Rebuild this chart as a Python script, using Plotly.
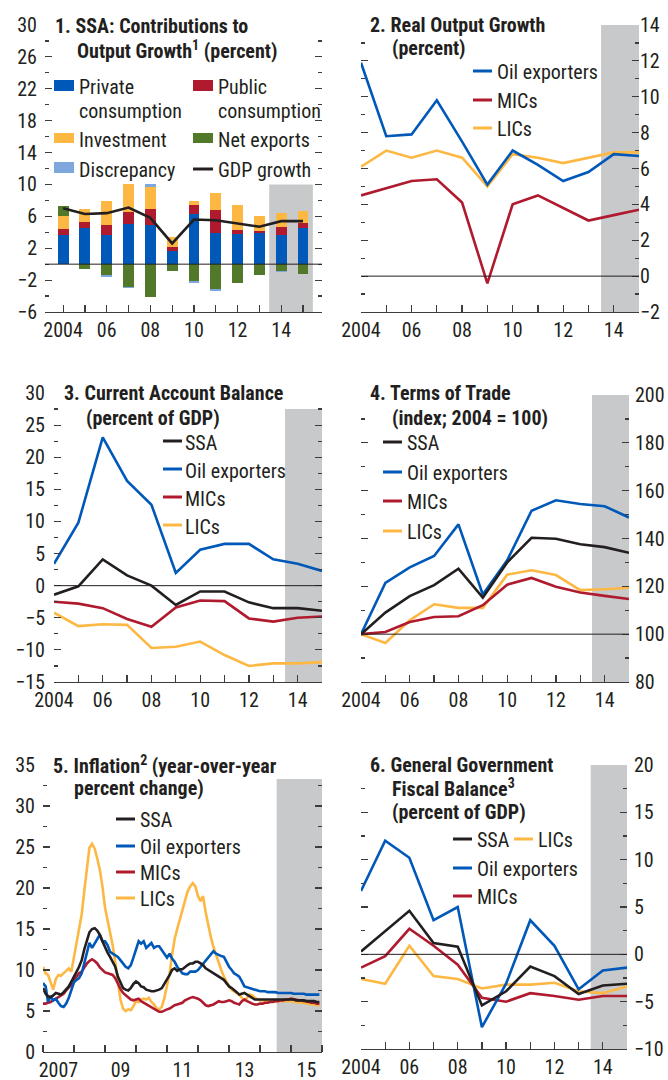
import plotly.graph_objects as go
import pandas as pd

# ---------------- DATA ----------------
years = list(range(2004, 2016))

# Panel 1: contributions to output growth (percentage points)
private_cons = [3.7, 4.5, 3.7, 5.1, 4.9, 1.7, 6.3, 3.9, 3.8, 3.9, 3.7, 4.5]
public_cons = [0.7, 0.8, 1.2, 1.4, 2.0, 0.5, 1.1, 2.9, 0.5, 0.3, 0.9, 0.7]
investment = [1.7, 1.6, 3.0, 3.5, 2.8, 1.2, 0.5, 2.1, 3.1, 1.9, 1.8, 1.5]
net_exports = [1.2, -0.6, -1.4, -2.9, -4.1, -0.8, -2.1, -3.1, -2.3, -1.3, -0.9, -1.2]
discrepancy = [0.0, 0.0, -0.2, -0.1, 0.3, 0.0, -0.2, -0.3, 0.0, -0.1, -0.1, 0.0]
gdp_growth = [7.0, 6.3, 6.4, 7.1, 5.8, 2.6, 5.6, 5.5, 5.1, 4.7, 5.4, 5.4]

# Panel 2: real output growth (percent)
rog_oil = [11.9, 7.8, 7.9, 9.8, 7.5, 5.1, 7.0, 6.2, 5.3, 5.8, 6.8, 6.7]
rog_mics = [4.5, 4.9, 5.3, 5.4, 4.1, -0.4, 4.0, 4.5, 3.8, 3.1, 3.4, 3.7]
rog_lics = [6.1, 7.0, 6.6, 7.0, 6.6, 5.0, 6.8, 6.6, 6.3, 6.6, 6.9, 6.9]

# Panel 3: current account balance (percent of GDP)
ca_ssa = [-1.4, -0.1, 4.1, 1.6, 0.0, -3.0, -0.9, -0.9, -2.6, -3.5, -3.5, -3.9]
ca_oil = [3.4, 9.8, 23.1, 16.3, 12.6, 2.0, 5.6, 6.5, 6.5, 4.1, 3.4, 2.3]
ca_mics = [-2.5, -2.8, -3.5, -5.2, -6.4, -3.4, -2.3, -2.4, -5.1, -5.6, -5.0, -4.8]
ca_lics = [-4.2, -6.3, -6.0, -6.1, -9.7, -9.5, -8.7, -10.8, -12.5, -12.1, -12.1, -11.9]

# Panel 4: terms of trade (index, 2004 = 100)
tot_ssa = [100, 109.0, 115.9, 120.5, 127.4, 115.3, 130.0, 140.3, 139.9, 137.6, 136.4, 134.0]
tot_oil = [100, 121.4, 127.9, 132.7, 145.9, 116.6, 130.9, 151.6, 156.0, 154.4, 153.5, 148.8]
tot_mics = [100, 100.9, 105.1, 107.2, 107.5, 112.1, 120.7, 123.5, 119.8, 117.4, 116.0, 114.7]
tot_lics = [100, 96.3, 105.8, 112.5, 111.0, 111.0, 124.9, 126.7, 124.7, 118.4, 118.8, 119.4]

# Panel 5: inflation, monthly Jan 2007 - Dec 2015 (year-over-year percent change)
months = pd.date_range("2007-01-01", periods=108, freq="MS")
inf_lics = [10.4, 9.6, 9.4, 8.4, 7.6, 8.9, 9.4, 9.3, 9.6, 9.9, 10.2, 9.8,
            11.6, 13.0, 14.6, 16.8, 19.6, 22.6, 24.9, 25.4, 24.8, 23.6, 22.2, 20.2,
            17.6, 16.0, 14.6, 13.0, 11.0, 8.8, 6.4, 5.3, 5.0, 5.2, 5.1, 5.6,
            6.2, 6.1, 6.4, 6.5, 6.4, 6.6, 6.1, 5.8, 5.3, 5.2, 5.5, 6.6,
            8.0, 9.6, 11.8, 13.8, 15.0, 16.2, 17.5, 18.6, 19.6, 20.2, 20.6, 20.2,
            19.0, 18.4, 19.0, 17.0, 15.4, 14.0, 12.8, 11.8, 10.8, 10.0, 9.2, 8.6,
            8.0, 7.6, 7.4, 7.2, 7.0, 6.6, 6.3, 6.6, 7.0, 6.9, 6.6, 6.4,
            6.3, 6.3, 6.2, 6.2, 6.2, 6.2, 6.2, 6.2, 6.2, 6.2, 6.2, 6.2,
            6.2, 6.1, 6.1, 6.0, 6.0, 6.0, 5.9, 5.9, 5.8, 5.8, 5.7, 5.7]
inf_ssa = [7.8, 7.1, 6.8, 6.7, 6.9, 7.2, 7.1, 7.0, 7.3, 7.6, 8.0, 8.6,
           9.3, 9.8, 10.4, 11.2, 12.5, 13.6, 14.6, 15.0, 15.1, 14.8, 14.3, 13.5,
           12.7, 12.1, 11.6, 11.0, 10.4, 9.2, 8.4, 7.8, 7.6, 7.5, 7.8, 8.3,
           8.6, 8.4, 8.0, 7.9, 7.6, 7.5, 7.4, 7.4, 7.5, 7.6, 7.8, 8.3,
           8.8, 9.4, 10.0, 10.2, 9.9, 10.1, 10.1, 10.4, 10.6, 10.8, 10.8, 11.0,
           11.0, 10.8, 10.6, 10.2, 10.0, 9.8, 9.6, 9.4, 9.2, 9.0, 8.8, 8.4,
           8.0, 7.8, 7.6, 7.3, 7.0, 7.1, 7.2, 7.0, 6.8, 6.6, 6.4, 6.4,
           6.4, 6.4, 6.4, 6.4, 6.4, 6.4, 6.4, 6.4, 6.4, 6.4, 6.4, 6.4,
           6.4, 6.4, 6.3, 6.3, 6.3, 6.3, 6.2, 6.2, 6.2, 6.2, 6.1, 6.1]
inf_oil = [8.4, 8.0, 6.1, 6.8, 6.3, 6.5, 6.0, 5.6, 5.5, 5.9, 6.6, 7.6,
           8.5, 8.8, 9.0, 9.6, 10.8, 12.0, 13.3, 12.7, 13.2, 13.8, 14.3, 13.5,
           13.5, 13.0, 12.2, 12.0, 11.8, 11.6, 11.2, 10.8, 10.4, 10.2, 10.6, 11.5,
           12.5, 13.5, 13.2, 13.5, 12.7, 13.0, 13.3, 12.7, 12.9, 12.9, 12.4, 12.0,
           11.5, 12.0, 11.4, 11.0, 10.4, 10.0, 9.6, 9.5, 9.5, 9.8, 9.8, 9.8,
           10.0, 10.4, 10.8, 11.2, 11.6, 12.0, 12.3, 12.0, 11.8, 11.7, 11.6, 11.0,
           10.4, 10.0, 9.6, 9.4, 9.2, 8.6, 8.0, 7.9, 7.8, 7.7, 7.6, 7.5,
           7.4, 7.4, 7.4, 7.3, 7.3, 7.3, 7.3, 7.2, 7.2, 7.2, 7.2, 7.2,
           7.2, 7.1, 7.1, 7.1, 7.1, 7.1, 7.0, 7.0, 7.0, 7.0, 7.0, 7.0]
inf_mics = [5.9, 5.9, 6.0, 6.1, 6.3, 6.5, 6.6, 6.9, 7.1, 7.5, 7.8, 8.2,
            8.8, 9.2, 9.6, 9.8, 10.3, 10.8, 11.1, 11.3, 11.1, 10.8, 10.3, 10.0,
            9.7, 9.6, 9.5, 9.4, 9.0, 8.3, 7.7, 7.2, 6.9, 6.7, 6.4, 6.3,
            6.4, 6.5, 6.2, 6.0, 5.8, 5.6, 5.4, 5.2, 5.0, 4.9, 4.9, 5.1,
            5.2, 5.3, 5.5, 5.7, 5.8, 5.9, 6.0, 6.3, 6.5, 6.6, 6.7, 6.6,
            6.5, 6.3, 6.0, 5.7, 5.6, 5.7, 5.8, 6.0, 6.2, 6.1, 6.1, 6.2,
            6.3, 6.2, 6.0, 5.9, 5.8, 6.2, 6.4, 6.2, 6.0, 5.9, 5.8, 5.8,
            5.9, 5.9, 6.0, 6.0, 6.1, 6.1, 6.2, 6.2, 6.3, 6.3, 6.4, 6.4,
            6.5, 6.4, 6.4, 6.3, 6.3, 6.2, 6.2, 6.1, 6.0, 6.0, 5.9, 5.9]

# Panel 6: general government fiscal balance (percent of GDP)
fb_ssa = [0.3, 2.4, 4.6, 1.2, 0.8, -5.4, -3.9, -1.3, -2.3, -4.2, -3.3, -3.1]
fb_oil = [6.7, 12.0, 10.2, 3.6, 5.0, -7.7, -3.1, 3.6, 0.9, -3.7, -1.7, -1.4]
fb_mics = [-1.4, -0.2, 2.7, 0.9, -1.1, -4.6, -5.0, -4.1, -4.4, -4.8, -4.4, -4.4]
fb_lics = [-2.6, -3.1, 0.9, -2.3, -2.6, -3.6, -3.2, -3.2, -3.0, -3.9, -4.1, -3.4]

year_ticks = [2004, 2006, 2008, 2010, 2012, 2014]
year_labels = ["2004", "06", "08", "10", "12", "14"]
inf_labels = ["2007", "09", "11", "13", "15"]

# ---------------- STYLE ----------------
FONT = "Roboto Condensed, Archivo Narrow, sans-serif"
TXT = "#231F20"
AX = "#3C3C3C"
BLACK = "#231F20"
BLUE = "#0058B8"
RED = "#B01A2E"
YELLOW = "#FDB843"
GREEN = "#52782A"
LBLUE = "#7DA7DD"
SHADE = "#C8C9CB"
LW = 2.6
FS = 20

W, H = 668, 1080


def px(x):
    return x / W


def py(y):
    return 1 - y / H


fig = go.Figure()

# Panel 1 bars
for name, vals, col in [("Private consumption", private_cons, BLUE),
                        ("Public consumption", public_cons, RED),
                        ("Investment", investment, YELLOW),
                        ("Net exports", net_exports, GREEN),
                        ("Discrepancy", discrepancy, LBLUE)]:
    fig.add_trace(go.Bar(x=years, y=vals, name=name, marker=dict(color=col, line=dict(width=0)),
                         width=0.5, xaxis="x", yaxis="y", showlegend=False))
fig.add_trace(go.Scatter(x=years, y=gdp_growth, mode="lines", line=dict(color=BLACK, width=LW),
                         xaxis="x", yaxis="y", showlegend=False, name="GDP growth"))


def add_lines(x, series, xa, ya):
    for vals, col in series:
        fig.add_trace(go.Scatter(x=x, y=vals, mode="lines", line=dict(color=col, width=LW),
                                 xaxis=xa, yaxis=ya, showlegend=False))


add_lines(years, [(rog_lics, YELLOW), (rog_mics, RED), (rog_oil, BLUE)], "x2", "y2")
add_lines(years, [(ca_lics, YELLOW), (ca_mics, RED), (ca_oil, BLUE), (ca_ssa, BLACK)], "x3", "y3")
add_lines(years, [(tot_lics, YELLOW), (tot_mics, RED), (tot_oil, BLUE), (tot_ssa, BLACK)], "x4", "y4")
add_lines(months, [(inf_lics, YELLOW), (inf_mics, RED), (inf_oil, BLUE), (inf_ssa, BLACK)], "x5", "y5")
add_lines(years, [(fb_lics, YELLOW), (fb_mics, RED), (fb_oil, BLUE), (fb_ssa, BLACK)], "x6", "y6")


def xcfg(left, right, rng, tickvals, ticktext, minorvals, anchor, ticks="inside", xtype="linear"):
    return dict(domain=[px(left), px(right)], range=rng, anchor=anchor, type=xtype, automargin=False,
                tickmode="array", tickvals=tickvals, ticktext=ticktext,
                ticks=ticks, ticklen=7, tickwidth=1.2, tickcolor=AX,
                showline=True, linecolor=AX, linewidth=1.3, showgrid=False, zeroline=False,
                tickfont=dict(size=FS, color=TXT, family=FONT), ticklabelstandoff=0,
                minor=dict(tickmode="array", tickvals=minorvals, ticks="inside", ticklen=7,
                           tickwidth=1.2, tickcolor=AX, showgrid=False),
                fixedrange=True)


def ycfg(top, bottom, rng, dtick, mdtick, side, anchor, standoff):
    return dict(domain=[py(bottom), py(top)], range=rng, anchor=anchor, side=side, automargin=False,
                tickmode="linear", tick0=rng[0], dtick=dtick,
                ticks="inside", ticklen=7, tickwidth=1.2, tickcolor=AX, mirror="ticks",
                showline=False, showgrid=False, zeroline=False,
                tickfont=dict(size=FS, color=TXT, family=FONT),
                ticklabelstandoff=standoff,
                minor=dict(tickmode="linear", tick0=rng[0], dtick=mdtick, ticks="inside", ticklen=4,
                           tickwidth=1.2, tickcolor=AX, showgrid=False),
                fixedrange=True)


yr_minor = list(range(2003, 2017))
mon_minor = [f"{y}-01-01" for y in range(2007, 2017)]
mon_ticks = [f"{y}-07-02" for y in [2007, 2009, 2011, 2013, 2015]]

fig.update_layout(
    template="none",
    xaxis=xcfg(45, 322, [2003.17, 2015.87], year_ticks, year_labels, yr_minor, "y"),
    yaxis=ycfg(25, 312, [-6, 30], 4, 2, "left", "x", 7),
    xaxis2=xcfg(361, 639, [2004, 2015], year_ticks, year_labels, yr_minor, "y2"),
    yaxis2=ycfg(25, 312, [-2, 14], 2, 1, "right", "x2", 0),
    xaxis3=xcfg(54, 322, [2004, 2015], year_ticks, year_labels, yr_minor, "y3"),
    yaxis3=ycfg(393, 682, [-15, 30], 5, 2.5, "left", "x3", 8),
    xaxis4=xcfg(361, 629, [2004, 2015], year_ticks, year_labels, yr_minor, "y4"),
    yaxis4=ycfg(395, 682, [80, 200], 20, 10, "right", "x4", 5),
    xaxis5=xcfg(43, 322, ["2007-01-01", "2016-01-01"], mon_ticks, inf_labels, mon_minor, "y5",
                ticks="", xtype="date"),
    yaxis5=ycfg(765, 1052, [0, 35], 5, 2.5, "left", "x5", 7),
    xaxis6=xcfg(361, 627, [2004, 2015], year_ticks, year_labels, yr_minor, "y6"),
    yaxis6=ycfg(765, 1049, [-10, 20], 5, 2.5, "right", "x6", 6),
)

shapes = []
# projection shading
for xa, ya, x0, x1, y0, y1 in [("x", "y", 2013.45, 2015.45, -6, 10),
                               ("x2", "y2", 2013.5, 2015, -2, 14),
                               ("x3", "y3", 2013.48, 2015, -15, 27.5),
                               ("x4", "y4", 2013.48, 2015, 80, 200),
                               ("x5", "y5", "2014-07-16", "2016-01-01", 0, 33.3),
                               ("x6", "y6", 2013.5, 2015, -10, 20)]:
    shapes.append(dict(type="rect", xref=xa, yref=ya, x0=x0, x1=x1, y0=y0, y1=y1,
                       fillcolor=SHADE, line=dict(width=0), layer="below"))
# reference lines
for xa, ya, yv in [("x", "y", 0), ("x2", "y2", 0), ("x3", "y3", 0), ("x4", "y4", 100), ("x6", "y6", 0)]:
    shapes.append(dict(type="line", xref=f"{xa} domain", yref=ya, x0=0, x1=1, y0=yv, y1=yv,
                       line=dict(color=BLACK, width=1), layer="above"))

annotations = []


def text(x, y, s, bold=False, size=FS):
    annotations.append(dict(x=px(x), y=py(y), xref="paper", yref="paper", xanchor="left", yanchor="middle",
                            text=f"<b>{s}</b>" if bold else s, showarrow=False, borderpad=0,
                            font=dict(family=FONT, size=size, color=TXT)))


def swatch_rect(x0, x1, y0, y1, col):
    shapes.append(dict(type="rect", xref="paper", yref="paper", x0=px(x0), x1=px(x1), y0=py(y1), y1=py(y0),
                       fillcolor=col, line=dict(width=0)))


def swatch_line(x0, x1, y, col):
    shapes.append(dict(type="line", xref="paper", yref="paper", x0=px(x0), x1=px(x1), y0=py(y), y1=py(y),
                       line=dict(color=col, width=3)))


# Titles
text(54, 26, "1. SSA: Contributions to", bold=True)
text(76, 50, "Output Growth<sup>1</sup> (percent)", bold=True)
text(369, 25, "2. Real Output Growth", bold=True)
text(391, 48, "(percent)", bold=True)
text(63, 393, "3. Current Account Balance", bold=True)
text(85, 418, "(percent of GDP)", bold=True)
text(369, 393, "4. Terms of Trade", bold=True)
text(391, 418, "(index; 2004 = 100)", bold=True)
text(52, 765, "5. Inflation<sup>2</sup> (year-over-year", bold=True)
text(73, 788, "percent change)", bold=True)
text(369, 765, "6. General Government", bold=True)
text(391, 788, "Fiscal Balance<sup>3</sup>", bold=True)
text(391, 812, "(percent of GDP)", bold=True)

# Legend panel 1
swatch_rect(54, 74, 80, 91, BLUE)
text(78, 87, "Private")
text(78, 111, "consumption")
swatch_rect(193, 213, 80, 91, RED)
text(217, 87, "Public")
text(217, 111, "consumption")
swatch_rect(54, 74, 133, 143, YELLOW)
text(78, 140, "Investment")
swatch_rect(193, 213, 133, 143, GREEN)
text(217, 140, "Net exports")
swatch_rect(54, 74, 162, 173, LBLUE)
text(78, 170, "Discrepancy")
swatch_line(193, 213, 169, BLACK)
text(217, 170, "GDP growth")

# Legend panel 2
for y, lab, col in [(71, "Oil exporters", BLUE), (100, "MICs", RED), (128, "LICs", YELLOW)]:
    swatch_line(473, 492, y, col)
    text(496, y + 1, lab)

# Legend panel 3
for y, lab, col in [(441, "SSA", BLACK), (469, "Oil exporters", BLUE), (497, "MICs", RED), (525, "LICs", YELLOW)]:
    swatch_line(163, 182, y, col)
    text(184, y + 2, lab)

# Legend panel 4
for y, lab, col in [(442, "SSA", BLACK), (472, "Oil exporters", BLUE), (501, "MICs", RED), (531, "LICs", YELLOW)]:
    swatch_line(383, 402, y, col)
    text(406, y + 1, lab)

# Legend panel 5
for y, lab, col in [(819, "SSA", BLACK), (846, "Oil exporters", BLUE), (872, "MICs", RED), (898, "LICs", YELLOW)]:
    swatch_line(116, 135, y, col)
    text(139, y + 1, lab)

# Legend panel 6
swatch_line(453, 472, 839, BLACK)
text(476, 840, "SSA")
swatch_line(514, 533, 839, YELLOW)
text(537, 840, "LICs")
swatch_line(453, 472, 868, BLUE)
text(476, 869, "Oil exporters")
swatch_line(453, 472, 896, RED)
text(476, 897, "MICs")

fig.update_layout(
    width=W, height=H, autosize=False,
    margin=dict(l=0, r=0, t=0, b=0, pad=0),
    paper_bgcolor="white", plot_bgcolor="rgba(0,0,0,0)",
    barmode="relative", bargap=0,
    showlegend=False,
    font=dict(family=FONT, size=FS, color=TXT),
    shapes=shapes, annotations=annotations,
)

fig.write_html("out.html", config={"displayModeBar": False, "staticPlot": True},
               post_script="document.body.style.margin='0';document.body.style.overflow='hidden';")
